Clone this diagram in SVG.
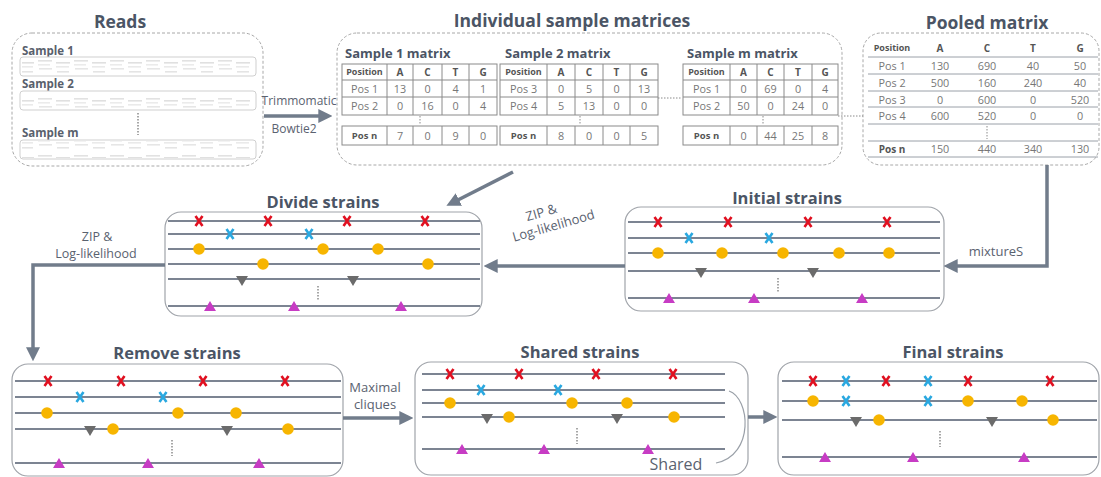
<svg xmlns="http://www.w3.org/2000/svg" xmlns:xlink="http://www.w3.org/1999/xlink" width="1101" height="477" viewBox="0 0 1101 477">
<style>
.title{font-family:"Open Sans","Liberation Sans",sans-serif;font-weight:bold;font-size:16.5px;fill:#4b5565;text-anchor:middle}
.sub{font-family:"Open Sans","Liberation Sans",sans-serif;font-weight:bold;font-size:13px;fill:#4b5565}
.slab{font-family:"Open Sans","Liberation Sans",sans-serif;font-weight:bold;font-size:11.5px;fill:#59606c}
.lbl{font-family:"Open Sans","Liberation Sans",sans-serif;font-size:12px;fill:#5a6270;text-anchor:middle}
.th{font-family:"Open Sans","Liberation Sans",sans-serif;font-weight:bold;font-size:9px;fill:#555;text-anchor:middle}
.tn{font-family:"Open Sans","Liberation Sans",sans-serif;font-size:10.8px;fill:#777;text-anchor:middle}
.tbl{fill:none;stroke:#8a8a8a;stroke-width:1}
.dash{fill:none;stroke:#a8a8a8;stroke-width:1;stroke-dasharray:3 2}
.box{fill:#fff;stroke:#a0a4aa;stroke-width:1.2}
.strip{fill:#fff;stroke:#cfcfcf;stroke-width:1}
.sl{stroke:#7c8492;stroke-width:2}
.dots{stroke:#8a8a8a;stroke-width:1.5;stroke-dasharray:1.5 1.5}
.arr{fill:none;stroke:#717c8b;stroke-width:3.5}
.pl{stroke:#9aa0a8;stroke-width:1}
</style>
<defs>
<marker id="ah" markerWidth="4" markerHeight="4" refX="2.2" refY="2" orient="auto" markerUnits="strokeWidth">
<path d="M0,0 L4,2 L0,4 z" fill="#717c8b"/>
</marker>
<pattern id="rd" width="36" height="19" patternUnits="userSpaceOnUse">
<rect x="2" y="3" width="14" height="1.6" fill="#e2e2e2"/>
<rect x="2" y="7" width="12" height="1.6" fill="#ebebeb"/>
<rect x="3" y="11" width="13" height="1.6" fill="#e6e6e6"/>
<rect x="20" y="5" width="14" height="1.6" fill="#e0e0e0"/>
<rect x="20" y="9" width="13" height="1.6" fill="#eaeaea"/>
<rect x="21" y="14" width="12" height="1.6" fill="#e4e4e4"/>
</pattern>
<g id="rx"><path d="M-3.5,-5 L3.5,5 M3.5,-5 L-3.5,5" stroke="#e01020" stroke-width="2.6" fill="none"/></g>
<g id="bx"><path d="M-3.5,-5 L3.5,5 M3.5,-5 L-3.5,5" stroke="#2aa8e0" stroke-width="2.6" fill="none"/></g>
<circle id="yc" r="5.8" fill="#f7b500"/>
<path id="gt" d="M-6,-3 L6,-3 L0,7 z" fill="#6b6b6b"/>
<path id="mt" d="M-6,5 L6,5 L0,-5 z" fill="#c73cc4"/>
</defs>
<rect width="1101" height="477" fill="#fff"/>

<g id="reads">
<text class="title" x="120" y="28" style="font-size:17.5px">Reads</text>
<rect class="dash" x="12" y="33" width="251" height="133" rx="20"/>
<text class="slab" x="22" y="55">Sample 1</text>
<rect class="strip" x="20" y="57" width="236" height="19" rx="3"/>
<rect x="22" y="58" width="232" height="17" fill="url(#rd)"/>
<text class="slab" x="22" y="88">Sample 2</text>
<rect class="strip" x="20" y="91" width="236" height="19" rx="3"/>
<rect x="22" y="92" width="232" height="17" fill="url(#rd)"/>
<line class="dots" x1="138" y1="113" x2="138" y2="135"/>
<text class="slab" x="22" y="137">Sample m</text>
<rect class="strip" x="20" y="140" width="236" height="19" rx="3"/>
<rect x="22" y="141" width="232" height="17" fill="url(#rd)"/>
</g>

<g id="sample-matrices">
<text class="title" x="572" y="27" style="font-size:17.5px">Individual sample matrices</text>
<rect class="dash" x="337" y="33" width="505" height="132" rx="20"/>
<text class="sub" x="345" y="58">Sample 1 matrix</text>
<text class="sub" x="505" y="58">Sample 2 matrix</text>
<text class="sub" x="687" y="58">Sample m matrix</text>
<g id="table-1">
<rect class="tbl" x="342" y="64" width="155" height="51"/>
<path class="tbl" d="M342,80H497M342,97H497M387,64V115M413,64V115M442,64V115M469,64V115"/>
<rect class="tbl" x="342" y="126" width="155" height="19"/>
<path class="tbl" d="M387,126V145M413,126V145M442,126V145M469,126V145"/>
<line class="dots" x1="420" y1="116" x2="420" y2="125" style="stroke-width:1"/>
<text class="th" x="364.5" y="75">Position</text><text class="th" x="400" y="76" style="font-size:10px">A</text><text class="th" x="427.5" y="76" style="font-size:10px">C</text><text class="th" x="455.5" y="76" style="font-size:10px">T</text><text class="th" x="483" y="76" style="font-size:10px">G</text>
<text class="tn" x="364.5" y="92.5">Pos 1</text><text class="tn" x="400" y="92.5">13</text><text class="tn" x="427.5" y="92.5">0</text><text class="tn" x="455.5" y="92.5">4</text><text class="tn" x="483" y="92.5">1</text>
<text class="tn" x="364.5" y="110">Pos 2</text><text class="tn" x="400" y="110">0</text><text class="tn" x="427.5" y="110">16</text><text class="tn" x="455.5" y="110">0</text><text class="tn" x="483" y="110">4</text>
<text class="th" x="364.5" y="139" style="font-size:9.5px">Pos n</text><text class="tn" x="400" y="139.5">7</text><text class="tn" x="427.5" y="139.5">0</text><text class="tn" x="455.5" y="139.5">9</text><text class="tn" x="483" y="139.5">0</text>
</g>
<g id="table-2">
<rect class="tbl" x="500" y="64" width="158" height="51"/>
<path class="tbl" d="M500,80H658M500,97H658M547,64V115M575,64V115M603,64V115M630,64V115"/>
<rect class="tbl" x="500" y="126" width="158" height="19"/>
<path class="tbl" d="M547,126V145M575,126V145M603,126V145M630,126V145"/>
<line class="dots" x1="580" y1="116" x2="580" y2="125" style="stroke-width:1"/>
<text class="th" x="523.5" y="75">Position</text><text class="th" x="561" y="76" style="font-size:10px">A</text><text class="th" x="589" y="76" style="font-size:10px">C</text><text class="th" x="616.5" y="76" style="font-size:10px">T</text><text class="th" x="644" y="76" style="font-size:10px">G</text>
<text class="tn" x="523.5" y="92.5">Pos 3</text><text class="tn" x="561" y="92.5">0</text><text class="tn" x="589" y="92.5">5</text><text class="tn" x="616.5" y="92.5">0</text><text class="tn" x="644" y="92.5">13</text>
<text class="tn" x="523.5" y="110">Pos 4</text><text class="tn" x="561" y="110">5</text><text class="tn" x="589" y="110">13</text><text class="tn" x="616.5" y="110">0</text><text class="tn" x="644" y="110">0</text>
<text class="th" x="523.5" y="139" style="font-size:9.5px">Pos n</text><text class="tn" x="561" y="139.5">8</text><text class="tn" x="589" y="139.5">0</text><text class="tn" x="616.5" y="139.5">0</text><text class="tn" x="644" y="139.5">5</text>
</g>
<g id="table-m">
<rect class="tbl" x="683" y="64" width="155" height="51"/>
<path class="tbl" d="M683,80H838M683,97H838M730,64V115M757,64V115M784,64V115M812,64V115"/>
<rect class="tbl" x="683" y="126" width="155" height="19"/>
<path class="tbl" d="M730,126V145M757,126V145M784,126V145M812,126V145"/>
<line class="dots" x1="763" y1="116" x2="763" y2="125" style="stroke-width:1"/>
<text class="th" x="706.5" y="75">Position</text><text class="th" x="743.5" y="76" style="font-size:10px">A</text><text class="th" x="770.5" y="76" style="font-size:10px">C</text><text class="th" x="798" y="76" style="font-size:10px">T</text><text class="th" x="825" y="76" style="font-size:10px">G</text>
<text class="tn" x="706.5" y="92.5">Pos 1</text><text class="tn" x="743.5" y="92.5">0</text><text class="tn" x="770.5" y="92.5">69</text><text class="tn" x="798" y="92.5">0</text><text class="tn" x="825" y="92.5">4</text>
<text class="tn" x="706.5" y="110">Pos 2</text><text class="tn" x="743.5" y="110">50</text><text class="tn" x="770.5" y="110">0</text><text class="tn" x="798" y="110">24</text><text class="tn" x="825" y="110">0</text>
<text class="th" x="706.5" y="139" style="font-size:9.5px">Pos n</text><text class="tn" x="743.5" y="139.5">0</text><text class="tn" x="770.5" y="139.5">44</text><text class="tn" x="798" y="139.5">25</text><text class="tn" x="825" y="139.5">8</text>
</g>
</g>

<g id="pooled-matrix">
<text class="title" x="987" y="29" style="font-size:17.5px">Pooled matrix</text>
<rect class="dash" x="863" y="33" width="236" height="132" rx="18"/>
<path class="pl" d="M868,57H1098M868,74H1098M868,91H1098M868,107H1098M868,124H1098M868,141H1098M868,157H1098"/>
<line class="dots" x1="987" y1="126" x2="987" y2="139" style="stroke-width:1"/>
<text class="th" x="892" y="51">Position</text><text class="th" x="940" y="52" style="font-size:10px">A</text><text class="th" x="987" y="52" style="font-size:10px">C</text><text class="th" x="1033" y="52" style="font-size:10px">T</text><text class="th" x="1080" y="52" style="font-size:10px">G</text>
<text class="tn" x="892" y="70">Pos 1</text><text class="tn" x="940" y="70">130</text><text class="tn" x="987" y="70">690</text><text class="tn" x="1033" y="70">40</text><text class="tn" x="1080" y="70">50</text>
<text class="tn" x="892" y="87">Pos 2</text><text class="tn" x="940" y="87">500</text><text class="tn" x="987" y="87">160</text><text class="tn" x="1033" y="87">240</text><text class="tn" x="1080" y="87">40</text>
<text class="tn" x="892" y="104">Pos 3</text><text class="tn" x="940" y="104">0</text><text class="tn" x="987" y="104">600</text><text class="tn" x="1033" y="104">0</text><text class="tn" x="1080" y="104">520</text>
<text class="tn" x="892" y="120">Pos 4</text><text class="tn" x="940" y="120">600</text><text class="tn" x="987" y="120">520</text><text class="tn" x="1033" y="120">0</text><text class="tn" x="1080" y="120">0</text>
<text class="th" x="892" y="153" style="font-size:10px">Pos n</text><text class="tn" x="940" y="153">150</text><text class="tn" x="987" y="153">440</text><text class="tn" x="1033" y="153">340</text><text class="tn" x="1080" y="153">130</text>
</g>

<g id="initial-strains">
<text class="title" x="787" y="204">Initial strains</text>
<rect class="box" x="625" y="207" width="319" height="104" rx="16"/>
<path class="sl" d="M628,222H940M628,238H940M628,253H940M628,271H940M628,298H940"/>
<line class="dots" x1="778" y1="278" x2="778" y2="292"/>
<use href="#rx" x="658" y="222"/><use href="#rx" x="728" y="222"/><use href="#rx" x="808" y="222"/><use href="#rx" x="887" y="222"/>
<use href="#bx" x="689" y="238"/><use href="#bx" x="769" y="238"/>
<use href="#yc" x="658" y="253"/><use href="#yc" x="722" y="253"/><use href="#yc" x="783" y="253"/><use href="#yc" x="839" y="253"/><use href="#yc" x="889" y="253"/>
<use href="#gt" x="701" y="271"/><use href="#gt" x="813" y="271"/>
<use href="#mt" x="669" y="298"/><use href="#mt" x="754" y="298"/><use href="#mt" x="862" y="298"/>
</g>

<g id="divide-strains">
<text class="title" x="323" y="208">Divide strains</text>
<rect class="box" x="165" y="212" width="317" height="104" rx="16"/>
<path class="sl" d="M168,221H480M168,234H480M168,249H480M168,264H480M168,279H480M168,306H480"/>
<line class="dots" x1="318" y1="286" x2="318" y2="300"/>
<use href="#rx" x="199" y="221"/><use href="#rx" x="268" y="221"/><use href="#rx" x="347" y="221"/><use href="#rx" x="425" y="221"/>
<use href="#bx" x="230" y="234"/><use href="#bx" x="309" y="234"/>
<use href="#yc" x="199" y="249"/><use href="#yc" x="323" y="249"/><use href="#yc" x="378" y="249"/>
<use href="#yc" x="263" y="264"/><use href="#yc" x="428" y="264"/>
<use href="#gt" x="242" y="279"/><use href="#gt" x="353" y="279"/>
<use href="#mt" x="210" y="306"/><use href="#mt" x="294" y="306"/><use href="#mt" x="401" y="306"/>
</g>

<g id="remove-strains">
<text class="title" x="177" y="359">Remove strains</text>
<rect class="box" x="12" y="364" width="331" height="112" rx="16"/>
<path class="sl" d="M15,381H341M15,397H341M15,413H341M15,429H341M15,463H341"/>
<line class="dots" x1="172" y1="440" x2="172" y2="456"/>
<use href="#rx" x="48" y="381"/><use href="#rx" x="121" y="381"/><use href="#rx" x="203" y="381"/><use href="#rx" x="285" y="381"/>
<use href="#bx" x="80" y="397"/><use href="#bx" x="163" y="397"/>
<use href="#yc" x="47" y="413"/><use href="#yc" x="178" y="413"/><use href="#yc" x="236" y="413"/>
<use href="#yc" x="113" y="429"/><use href="#yc" x="288" y="429"/>
<use href="#gt" x="90" y="429"/><use href="#gt" x="227" y="429"/>
<use href="#mt" x="59" y="463"/><use href="#mt" x="148" y="463"/><use href="#mt" x="259" y="463"/>
</g>

<g id="shared-strains">
<text class="title" x="580" y="358">Shared strains</text>
<rect class="box" x="415" y="362" width="333" height="113" rx="16"/>
<path class="sl" d="M422,374H725M422,390H725M422,403H725M422,417H725M422,449H725"/>
<line class="dots" x1="577" y1="428" x2="577" y2="444"/>
<use href="#rx" x="450" y="374"/><use href="#rx" x="519" y="374"/><use href="#rx" x="596" y="374"/><use href="#rx" x="673" y="374"/>
<use href="#bx" x="481" y="390"/><use href="#bx" x="558" y="390"/>
<use href="#yc" x="450" y="403"/><use href="#yc" x="572" y="403"/><use href="#yc" x="627" y="403"/>
<use href="#yc" x="509" y="417"/><use href="#yc" x="674" y="417"/>
<use href="#gt" x="487" y="417"/><use href="#gt" x="617" y="417"/>
<use href="#mt" x="462" y="449"/><use href="#mt" x="544" y="449"/><use href="#mt" x="648" y="449"/>
<path d="M729,391 C750,398 755,455 716,463" fill="none" stroke="#9aa0a8" stroke-width="1.2"/>
<text class="lbl" x="676" y="470" style="font-size:16px">Shared</text>
</g>

<g id="final-strains">
<text class="title" x="953" y="358">Final strains</text>
<rect class="box" x="778" y="362" width="321" height="113" rx="16"/>
<path class="sl" d="M782,381H1097M782,401H1097M782,420H1097M782,457H1097"/>
<line class="dots" x1="940" y1="431" x2="940" y2="447"/>
<use href="#rx" x="813" y="381"/><use href="#rx" x="886" y="381"/><use href="#rx" x="968" y="381"/><use href="#rx" x="1050" y="381"/>
<use href="#bx" x="846" y="381"/><use href="#bx" x="928" y="381"/>
<use href="#yc" x="813" y="401"/><use href="#bx" x="846" y="401"/><use href="#bx" x="928" y="401"/><use href="#yc" x="968" y="401"/><use href="#yc" x="1022" y="401"/>
<use href="#gt" x="856" y="420"/><use href="#yc" x="879" y="420"/><use href="#gt" x="992" y="420"/><use href="#yc" x="1053" y="420"/>
<use href="#mt" x="825" y="457"/><use href="#mt" x="913" y="457"/><use href="#mt" x="1024" y="457"/>
</g>

<g id="connectors">
<path class="arr" d="M264,116 H326" marker-end="url(#ah)"/>
<text class="lbl" x="299" y="105">Trimmomatic</text>
<text class="lbl" x="294" y="133">Bowtie2</text>
<line x1="658" y1="98" x2="682" y2="98" class="dots" style="stroke-width:1"/>
<line x1="838" y1="116" x2="863" y2="116" class="dots" style="stroke-width:1"/>
<path class="arr" d="M513,172 L452,203" marker-end="url(#ah)"/>
<path class="arr" d="M1047,165 V266 H950" marker-end="url(#ah)"/>
<text class="lbl" x="996" y="256" style="font-size:13px">mixtureS</text>
<path class="arr" d="M625,266 H490" marker-end="url(#ah)"/>
<g transform="translate(550,221) rotate(-16)">
<text class="lbl" x="-6" y="-6" style="font-size:13px">ZIP &amp;</text>
<text class="lbl" x="2" y="10" style="font-size:13px">Log-likelihood</text>
</g>
<path class="arr" d="M165,265 H33 V355" marker-end="url(#ah)"/>
<text class="lbl" x="97" y="241" style="font-size:12.5px">ZIP &amp;</text>
<text class="lbl" x="96" y="258" style="font-size:12.5px">Log-likelihood</text>
<path class="arr" d="M343,418 H407" marker-end="url(#ah)"/>
<text class="lbl" x="375" y="392" style="font-size:13px">Maximal</text>
<text class="lbl" x="375" y="409" style="font-size:13px">cliques</text>
<path class="arr" d="M748,417 H771" marker-end="url(#ah)"/>
</g>
</svg>
